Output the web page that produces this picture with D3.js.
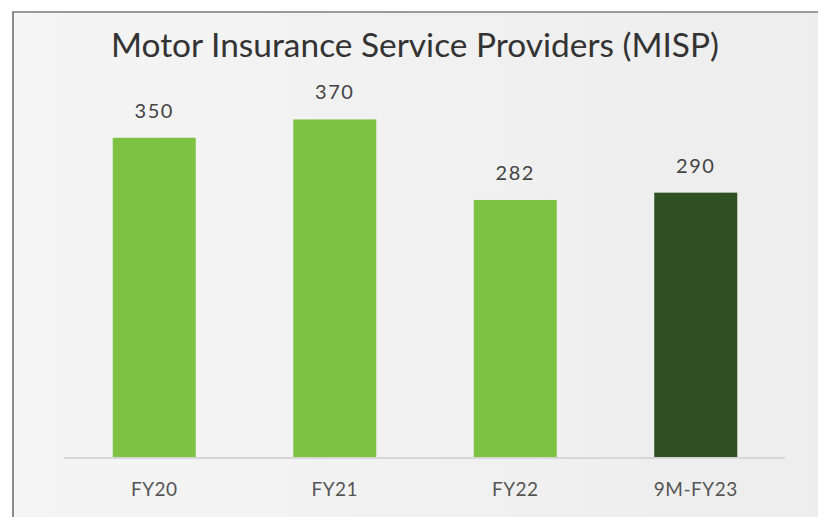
<!DOCTYPE html>
<html>
<head>
<meta charset="utf-8">
<script src="https://cdn.jsdelivr.net/npm/d3@7"></script>
<style>
  html, body { margin: 0; padding: 0; background: #fff; }
  svg { display: block; }
</style>
</head>
<body>
<div id="chart"></div>
<script>
const title = 'Motor Insurance Service Providers (MISP)';
const categories = ['FY20', 'FY21', 'FY22', '9M-FY23'];
const values = [350, 370, 282, 290];
const barColors = ['#7dc243', '#7dc243', '#7dc243', '#2f5121'];

const width = 818, height = 517;
const font = 'Lato, Open Sans, sans-serif';

const svg = d3.select('#chart').append('svg')
    .attr('width', width).attr('height', height);

// panel background + frame
const defs = svg.append('defs');
const grad = defs.append('linearGradient').attr('id', 'bg')
    .attr('x1', 0).attr('y1', 0).attr('x2', 1).attr('y2', 0);
grad.append('stop').attr('offset', '0%').attr('stop-color', '#f5f5f5');
grad.append('stop').attr('offset', '100%').attr('stop-color', '#ededed');

svg.append('rect').attr('x', 13).attr('y', 12).attr('width', width - 13).attr('height', height - 12)
    .attr('fill', 'url(#bg)');
svg.append('line').attr('x1', 12).attr('x2', width).attr('y1', 12).attr('y2', 12)
    .attr('stroke', '#9a9a9a').attr('stroke-width', 2);
svg.append('line').attr('x1', 13).attr('x2', 13).attr('y1', 12).attr('y2', height)
    .attr('stroke', '#8a8a8a').attr('stroke-width', 2);

const x = d3.scaleBand().domain(categories).range([64, 786]).paddingInner(0.54).paddingOuter(0.27);
const y = d3.scaleLinear().domain([0, 400]).range([458, 92]);

svg.append('text')
    .attr('x', 415).attr('y', 57)
    .attr('text-anchor', 'middle')
    .attr('font-family', font)
    .attr('font-size', 33)
    .attr('fill', '#333')
    .attr('textLength', 608).attr('lengthAdjust', 'spacingAndGlyphs')
    .text(title);

svg.selectAll('rect.bar').data(categories).join('rect')
    .attr('class', 'bar')
    .attr('x', d => x(d))
    .attr('width', x.bandwidth())
    .attr('y', (d, i) => y(values[i]))
    .attr('height', (d, i) => y(0) - y(values[i]))
    .attr('fill', (d, i) => barColors[i]);

svg.selectAll('text.val').data(categories).join('text')
    .attr('class', 'val')
    .attr('x', d => x(d) + x.bandwidth() / 2)
    .attr('y', (d, i) => y(values[i]) - 20)
    .attr('text-anchor', 'middle')
    .attr('font-family', font)
    .attr('font-size', 20)
    .attr('letter-spacing', 1.5)
    .attr('fill', '#444')
    .text((d, i) => values[i]);

const axis = svg.append('g').attr('transform', `translate(0,${y(0)})`)
    .call(d3.axisBottom(x).tickSize(0).tickPadding(25));
axis.select('.domain').attr('stroke', '#d6d6d6').attr('stroke-width', 2)
    .attr('d', 'M64,0H785');
axis.selectAll('text')
    .attr('font-family', font)
    .attr('font-size', 19)
    .attr('letter-spacing', 0.5)
    .attr('fill', '#555');
</script>
</body>
</html>
